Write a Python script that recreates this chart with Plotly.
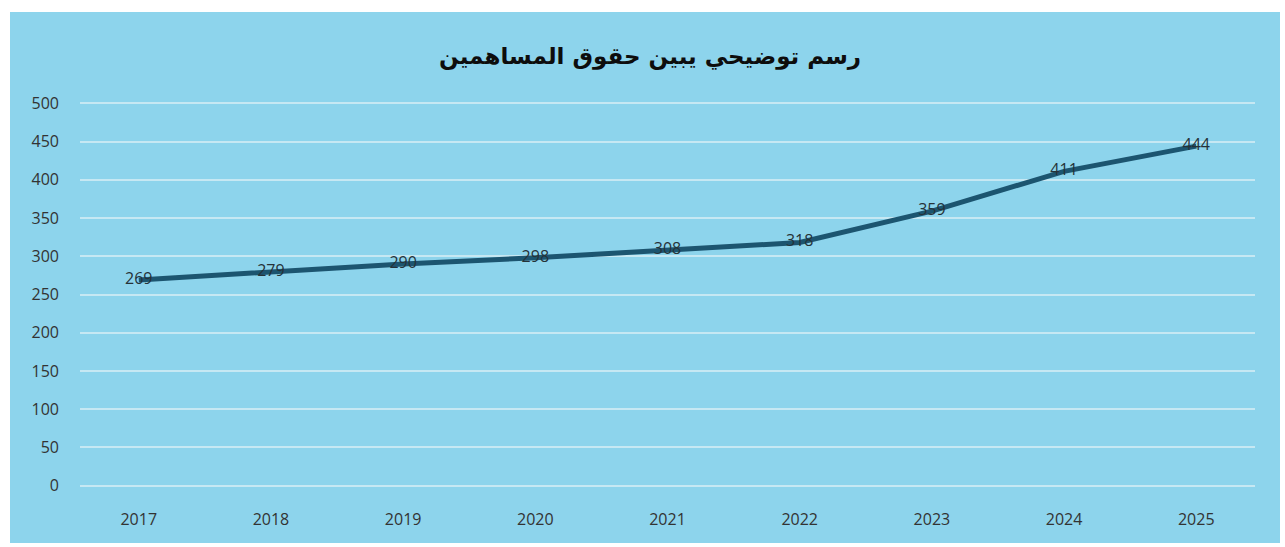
import plotly.graph_objects as go

years = ["2017", "2018", "2019", "2020", "2021", "2022", "2023", "2024", "2025"]
equity = [269, 279, 290, 298, 308, 318, 359, 411, 444]
y_ticks = [0, 50, 100, 150, 200, 250, 300, 350, 400, 450, 500]
title_text = "رسم توضيحي يبين حقوق المساهمين"

BG_BLUE = "#8dd4ec"
LINE_COLOR = "#1c5570"
LABEL_FONT = "'Open Sans', Lato, sans-serif"

fig = go.Figure()
fig.add_trace(go.Scatter(
    x=years,
    y=equity,
    mode="lines+text",
    line=dict(color=LINE_COLOR, width=5),
    text=[str(v) for v in equity],
    textposition="middle center",
    textfont=dict(family=LABEL_FONT, size=16, color="#263238"),
    hoverinfo="skip",
    cliponaxis=False,
))

W, H = 1285, 547
ml, mr, mt, mb = 80, 30, 101, 59
pw, ph = W - ml - mr, H - mt - mb

def px_x(p):
    return (p - ml) / pw

def px_y(p):
    return (H - mb - p) / ph

fig.update_layout(
    width=W, height=H,
    margin=dict(l=ml, r=mr, t=mt, b=mb),
    paper_bgcolor="white",
    plot_bgcolor="rgba(0,0,0,0)",
    showlegend=False,
    shapes=[dict(
        type="rect", xref="paper", yref="paper", layer="below",
        x0=px_x(10), x1=px_x(1280), y0=px_y(543), y1=px_y(12),
        fillcolor=BG_BLUE, line=dict(width=0),
    )],
    annotations=[dict(
        text="<b>" + title_text + "</b>",
        xref="paper", yref="paper",
        x=px_x(650), y=px_y(56),
        xanchor="center", yanchor="middle",
        showarrow=False,
        font=dict(family="'DejaVu Sans', sans-serif", size=23, color="#0d0d0d"),
    )],
    xaxis=dict(
        type="category",
        showgrid=False, zeroline=False, showline=False,
        ticks="", ticklabelstandoff=20,
        tickfont=dict(family=LABEL_FONT, size=16, color="#333333"),
    ),
    yaxis=dict(
        range=[-3, 503],
        tickvals=y_ticks,
        showgrid=True, gridcolor="#c6e8f3", gridwidth=1.5,
        zeroline=False, showline=False, ticks="",
        ticklabelstandoff=20,
        tickfont=dict(family=LABEL_FONT, size=16, color="#333333"),
    ),
)

fig.write_html("out.html")
